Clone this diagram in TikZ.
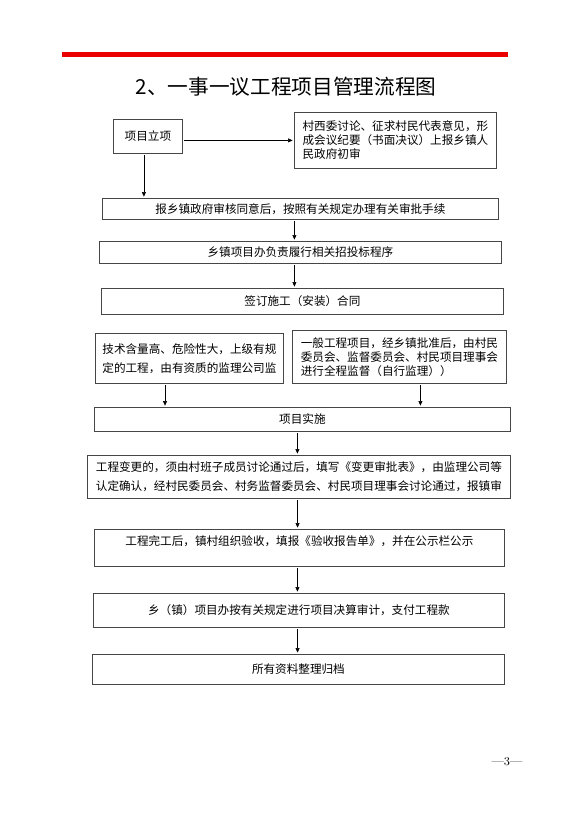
\documentclass[tikz,border=0pt]{standalone}
\usepackage{fontspec}
\newfontfamily\cjk{Noto Sans CJK SC}
\usetikzlibrary{arrows.meta,positioning}
\definecolor{barred}{RGB}{235,0,0}
\definecolor{boxgray}{RGB}{70,70,70}

\begin{document}
\begin{tikzpicture}[
    x=0.75pt, y=-0.75pt,
    box/.style={draw=boxgray, line width=0.6pt, anchor=north west, inner sep=0pt, align=center, font=\cjk\fontsize{8.7pt}{10.5pt}\selectfont},
    wide/.style={box, align=left, font=\cjk\fontsize{8.7pt}{14pt}\selectfont},
    line/.style={draw, line width=0.5pt, shorten <=1pt, shorten >=1pt, -{Triangle[length=3.5pt,width=3pt]}}
]
\useasboundingbox (0,0) rectangle (577,817);

% heading
\fill[barred] (62,52) rectangle (508,57);
\node [font=\cjk\fontsize{15.5pt}{18pt}\selectfont] (title) at (286,87) {2、一事一议工程项目管理流程图};

% approval steps
\node [box, minimum width=51.75pt, minimum height=25.5pt] (start) at (113,119) {项目立项};
\node [box, align=left, minimum width=151.5pt, minimum height=42pt] (village) at (294,112)
    {村西委讨论、征求村民代表意见，形\\成会议纪要（书面决议）上报乡镇人\\民政府初审};
\node [box, minimum width=297pt, minimum height=15.75pt] (approve) at (102,198) {报乡镇政府审核同意后，按照有关规定办理有关审批手续};
\node [box, minimum width=301.5pt, minimum height=16.5pt] (tender) at (99,241) {乡镇项目办负责履行相关招投标程序};
\node [box, minimum width=301.5pt, minimum height=19.5pt] (contract) at (101,288) {签订施工（安装）合同};

% supervision
\node [wide, minimum width=141pt, minimum height=37.5pt] (company) at (95,333)
    {技术含量高、危险性大，上级有规\\定的工程，由有资质的监理公司监};
\node [box, align=left, minimum width=160.5pt, minimum height=39.75pt] (self) at (292,330)
    {一般工程项目，经乡镇批准后，由村民\\委员会、监督委员会、村民项目理事会\\进行全程监督（自行监理））};

% execution and closing
\node [box, minimum width=312pt, minimum height=18pt] (build) at (94,407) {项目实施};
\node [wide, minimum width=317.25pt, minimum height=32.25pt] (change) at (87,455)
    {工程变更的，须由村班子成员讨论通过后，填写《变更审批表》，由监理公司等\\认定确认，经村民委员会、村务监督委员会、村民项目理事会讨论通过，报镇审};
\node [box, minimum width=307.5pt, minimum height=27.75pt, font=\cjk\fontsize{8.7pt}{11pt}\selectfont] (accept) at (94,529)
    {工程完工后，镇村组织验收，填报《验收报告单》，并在公示栏公示\\\mbox{}};
\node [box, minimum width=308.25pt, minimum height=25.5pt] (audit) at (93,593) {乡（镇）项目办按有关规定进行项目决算审计，支付工程款};
\node [box, minimum width=309pt, minimum height=22.5pt] (archive) at (92,654) {所有资料整理归档};

\node [font=\fontsize{9pt}{10pt}\selectfont] (page) at (507,762) {—3—};

\path [line] (start.east |- village.west) -- (village.west);
\path [line] ([xshift=-3pt]start.south) -- ([xshift=-3pt]start.south |- approve.north);
\path [line] ([xshift=-4.5pt]approve.south) -- ([xshift=-4.5pt]approve.south |- tender.north);
\path [line] ([xshift=-4.5pt]tender.south) -- ([xshift=-4.5pt]tender.south |- contract.north);
\path [line] ([xshift=52.5pt]company.south west) -- ([xshift=52.5pt]company.south west |- build.north);
\path [line] ([xshift=15.75pt]self.south) -- ([xshift=15.75pt]self.south |- build.north);
\path [line] ([xshift=-3.75pt]build.south) -- ([xshift=-3.75pt]build.south |- change.north);
\path [line] ([xshift=-1pt]change.south) -- ([xshift=-1pt]change.south |- accept.north);
\path [line] ([xshift=-1.5pt]accept.south) -- ([xshift=-1.5pt]accept.south |- audit.north);
\path [line] ([xshift=-1pt]audit.south) -- ([xshift=-1pt]audit.south |- archive.north);

\end{tikzpicture}
\end{document}
